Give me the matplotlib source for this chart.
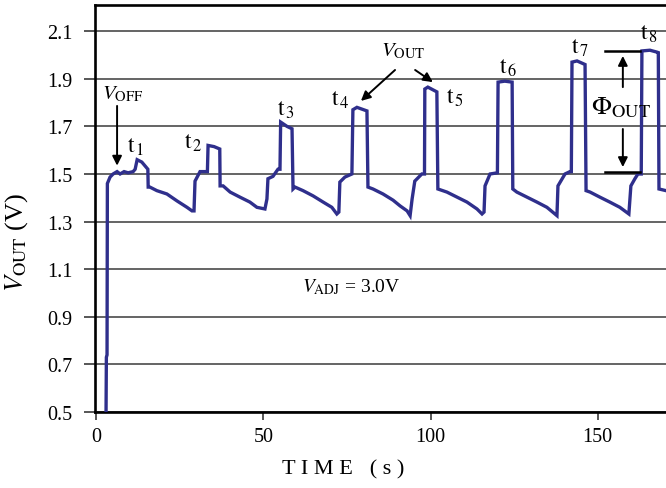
import matplotlib
matplotlib.use("Agg")
import matplotlib.pyplot as plt

plt.rcParams['font.family'] = ['Liberation Serif', 'DejaVu Serif']
plt.rcParams['mathtext.fontset'] = 'stix'

# ---- data (time in s, output voltage in V) ----
time_s = [3.0, 3.1, 3.3, 3.4, 4.2, 5.1, 6.3, 7.2, 8.4, 9.6, 11.1, 11.7, 12.3, 13.7, 14.9, 15.5,
          15.6, 16.1, 18.2, 21.2, 24.2, 27.2, 28.7, 29.3, 29.6, 31.1, 32.6, 33.3, 33.5, 35.3, 37.0,
          37.1, 38.0, 40.1, 43.0, 46.0, 48.1, 50.5, 51.1, 51.4, 52.9, 54.4, 55.0, 55.2, 57.1, 58.6,
          58.9, 59.5, 61.9, 64.9, 67.9, 70.5, 72.0, 72.6, 72.9, 74.4, 76.5, 76.8, 78.0, 81.0,
          81.3, 82.8, 85.8, 88.8, 90.9, 93.0, 93.9, 94.5, 95.3, 97.4, 98.2, 98.3, 99.2, 101.9,
          102.2, 104.9, 107.9, 110.9, 113.9, 115.4, 116.0, 116.3, 117.8, 120.0, 120.2, 122.2, 124.4,
          124.6, 125.8, 128.8, 131.8, 134.8, 137.8, 138.1, 140.2, 141.7, 142.1, 142.3, 143.8, 146.2,
          146.5, 147.7, 150.6, 153.6, 156.6, 159.3, 159.9, 161.1, 162.0, 163.0, 163.2, 165.6, 167.7,
          168.1, 168.3, 170.4]
v_out = [0.50, 0.73, 0.74, 1.46, 1.487, 1.50, 1.51, 1.50, 1.51, 1.505, 1.51, 1.52, 1.56, 1.55, 1.53, 1.52,
         1.445, 1.445, 1.43, 1.416, 1.387, 1.36, 1.345, 1.345, 1.47, 1.51, 1.51, 1.51, 1.62, 1.615, 1.605,
         1.45, 1.45, 1.424, 1.403, 1.382, 1.36, 1.353, 1.395, 1.48, 1.49, 1.52, 1.52, 1.718, 1.70, 1.69,
         1.437, 1.445, 1.43, 1.408, 1.382, 1.36, 1.332, 1.34, 1.466, 1.487, 1.50, 1.77, 1.78, 1.765,
         1.445, 1.437, 1.416, 1.39, 1.366, 1.345, 1.325, 1.395, 1.47, 1.50, 1.50, 1.857, 1.865, 1.845,
         1.437, 1.424, 1.403, 1.382, 1.353, 1.332, 1.34, 1.45, 1.50, 1.505, 1.886, 1.89, 1.886,
         1.437, 1.424, 1.403, 1.382, 1.36, 1.325, 1.45, 1.50, 1.51, 1.51, 1.97, 1.975, 1.96,
         1.43, 1.424, 1.403, 1.382, 1.36, 1.332, 1.45, 1.48, 1.50, 1.50, 2.017, 2.02, 2.012,
         2.01, 1.437, 1.43]

y_ticks = [0.5, 0.7, 0.9, 1.1, 1.3, 1.5, 1.7, 1.9, 2.1]
x_ticks = [0, 50, 100, 150]

pulse_labels = ['1', '2', '3', '4', '5', '6', '7', '8']
pulse_label_t = [12.0, 29.0, 56.8, 73.2, 107.3, 123.2, 144.7, 165.3]
pulse_label_v = [1.618, 1.634, 1.773, 1.815, 1.823, 1.95, 2.033, 2.092]

line_color = '#2f2f8c'

fig = plt.figure(figsize=(6.66, 4.89), dpi=100)
ax = fig.add_axes([95/666, 76/489, 571/666, 407/489])

for yv in y_ticks:
    ax.axhline(yv, color='#3a3a3a', lw=1.1, zorder=1)

ax.plot(time_s, v_out, color=line_color, lw=2.4, zorder=3, solid_joinstyle='miter')

ax.set_xlim(-0.3, 170.4)
ax.set_ylim(0.5, 2.21)
ax.set_xticks(x_ticks)
ax.set_yticks(y_ticks)
ax.set_yticklabels([f"{v:.1f}" for v in y_ticks])
ax.tick_params(axis='y', direction='out', length=8, width=1.2, color='#3a3a3a',
               labelsize=14.5, pad=8)
ax.tick_params(axis='x', direction='out', length=6, width=1.2, color='#3a3a3a',
               labelsize=14.5, pad=5)
for s in ['left', 'top', 'bottom']:
    ax.spines[s].set_linewidth(1.9)
    ax.spines[s].set_color('black')
ax.spines['right'].set_visible(False)

# annotations
arrow_kw = dict(arrowstyle='-|>', color='black', lw=1.4, mutation_scale=14, shrinkA=0, shrinkB=0)

ax.text(8.1, 1.84, r"$V_{\rm OFF}$", fontsize=15, ha='center', va='center')
ax.annotate('', xy=(6.3, 1.535), xytext=(6.3, 1.786), arrowprops=arrow_kw)

for lab, tx, vy in zip(pulse_labels, pulse_label_t, pulse_label_v):
    ax.text(tx, vy, r"$\mathrm{t}_{\,%s}$" % lab, fontsize=17, ha='center', va='center')

ax.text(91.8, 2.017, r"$V_{\rm OUT}$", fontsize=15, ha='center', va='center')
ax.annotate('', xy=(79.2, 1.807), xytext=(89.4, 1.937), arrowprops=arrow_kw)
ax.annotate('', xy=(100.7, 1.886), xytext=(95.4, 1.937), arrowprops=arrow_kw)

ax.plot([152.1, 162.6], [2.017, 2.017], color='black', lw=1.8, zorder=4)
ax.plot([152.1, 162.6], [1.508, 1.508], color='black', lw=1.8, zorder=4)
ax.annotate('', xy=(157.5, 1.996), xytext=(157.5, 1.865), arrowprops=arrow_kw)
ax.annotate('', xy=(157.5, 1.529), xytext=(157.5, 1.689), arrowprops=arrow_kw)
ax.text(156.9, 1.781, r"$\Phi_{\rm OUT}$", fontsize=19, ha='center', va='center')

ax.text(61.6, 1.03, r"$V_{\rm ADJ}$ = 3.0V", fontsize=14, ha='left', va='center')

fig.text(343/666, 1 - 470/489, "T I M E   ( s )", fontsize=16, ha='center', va='center')
fig.text(17/666, 1 - 242/489, r"$V_{\rm OUT}$ (V)", fontsize=19, rotation=90,
         ha='center', va='center')

fig.savefig("out.png", dpi=100)
